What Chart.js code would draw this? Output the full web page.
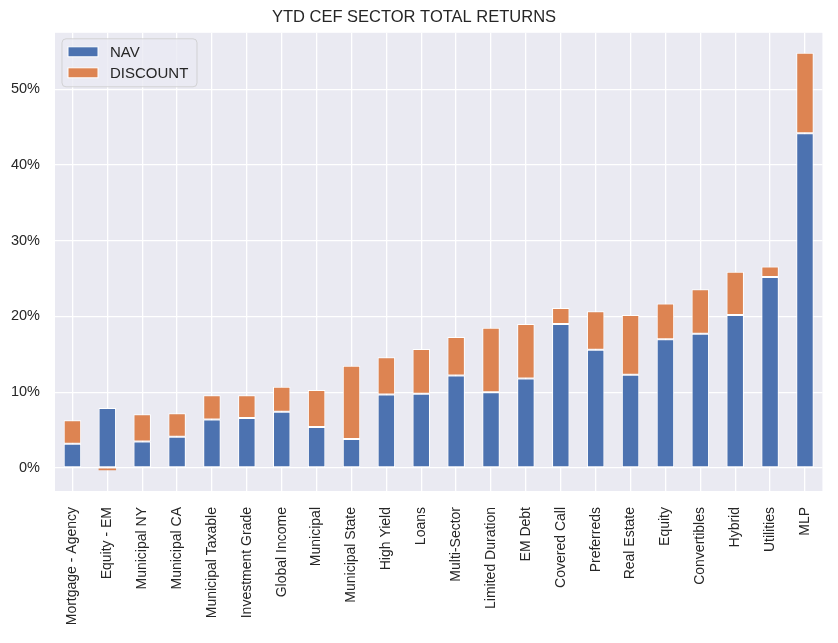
<!DOCTYPE html>
<html>
<head>
<meta charset="utf-8">
<script src="https://cdn.jsdelivr.net/npm/chart.js@4"></script>
<style>
  html, body { margin: 0; padding: 0; background: #ffffff; }
  #wrap { width: 838px; height: 643px; position: relative; }
</style>
</head>
<body>
<div id="wrap"><canvas id="chart"></canvas></div>
<script>
// ===== Data =====

const sectors = [
    'Mortgage - Agency', 'Equity - EM', 'Municipal NY', 'Municipal CA', 'Municipal Taxable',
    'Investment Grade', 'Global Income', 'Municipal', 'Municipal State', 'High Yield',
    'Loans', 'Multi-Sector', 'Limited Duration', 'EM Debt', 'Covered Call',
    'Preferreds', 'Real Estate', 'Equity', 'Convertibles', 'Hybrid', 'Utilities', 'MLP'
];
const navReturns = [3.2, 7.9, 3.5, 4.1, 6.4, 6.6, 7.4, 5.4, 3.8, 9.7, 9.8, 12.2, 10.0, 11.8, 19.0, 15.6, 12.3, 17.0, 17.7, 20.2, 25.2, 44.2];
const discountReturns = [3.1, -0.3, 3.6, 3.1, 3.2, 3.0, 3.3, 4.9, 9.7, 4.9, 5.9, 5.1, 8.5, 7.2, 2.1, 5.1, 7.9, 4.7, 5.9, 5.7, 1.4, 10.6];
const yTicks = [0, 10, 20, 30, 40, 50];

const textColor = '#262626';
const fontFamily = '"Liberation Sans", Arial, sans-serif';

// ===== Plugins =====

const plotBackground = {
    id: 'plotBackground',
    beforeDraw: (chart) => {
        const {ctx, chartArea} = chart;
        ctx.save();
        ctx.fillStyle = '#ffffff';
        ctx.fillRect(0, 0, chart.width, chart.height);
        ctx.fillStyle = '#EAEAF2';
        ctx.fillRect(chartArea.left, chartArea.top, chartArea.right - chartArea.left, chartArea.bottom - chartArea.top);
        ctx.restore();
    }
};

// legend drawn inside the plot, top left, like matplotlib's
const insideLegend = {
    id: 'insideLegend',
    afterDatasetsDraw: (chart) => {
        const {ctx, chartArea} = chart;
        const x0 = chartArea.left + 7;
        const y0 = chartArea.top + 6;
        const w = 135, h = 48;
        ctx.save();
        ctx.beginPath();
        ctx.roundRect(x0, y0, w, h, 4);
        ctx.fillStyle = 'rgba(234,234,242,0.8)';
        ctx.fill();
        ctx.strokeStyle = 'rgba(204,204,204,0.8)';
        ctx.lineWidth = 1;
        ctx.stroke();
        ctx.font = '15px ' + fontFamily;
        ctx.textBaseline = 'middle';
        chart.data.datasets.forEach((ds, i) => {
            const cy = y0 + 13 + i * 21;
            ctx.fillStyle = ds.backgroundColor;
            ctx.fillRect(x0 + 6, cy - 5, 30, 10);
            ctx.strokeStyle = '#ffffff';
            ctx.strokeRect(x0 + 6, cy - 5, 30, 10);
            ctx.fillStyle = textColor;
            ctx.fillText(ds.label, x0 + 48, cy + 1);
        });
        ctx.restore();
    }
};

// thin white edge, dropped on tiny segments so they stay visible
const edgeWidth = (c) => Math.abs(c.raw) < 1 ? 0 : 1;

// ===== Config =====

const data = {
    labels: sectors,
    datasets: [{
        label: 'NAV',
        data: navReturns,
        backgroundColor: '#4C72B0',
        borderColor: '#ffffff',
        borderWidth: edgeWidth,
        borderSkipped: false
    }, {
        label: 'DISCOUNT',
        data: discountReturns,
        backgroundColor: '#DD8452',
        borderColor: '#ffffff',
        borderWidth: edgeWidth,
        borderSkipped: false
    }]
};

const options = {
    responsive: true,
    maintainAspectRatio: false,
    animation: false,
    layout: { padding: { left: 0, right: 10, top: 0, bottom: 0 } },
    datasets: { bar: { barPercentage: 0.5, categoryPercentage: 1.0 } },
    plugins: {
        legend: { display: false },
        tooltip: { enabled: false },
        title: {
            display: true,
            text: 'YTD CEF SECTOR TOTAL RETURNS',
            color: textColor,
            font: { family: fontFamily, size: 16.5, weight: 'normal', lineHeight: 1.2 },
            padding: { top: 8, bottom: 5 }
        }
    },
    scales: {
        x: {
            stacked: true,
            offset: true,
            grid: { color: '#ffffff', lineWidth: 1.3, offset: false, drawTicks: false },
            border: { display: false },
            ticks: {
                autoSkip: false,
                minRotation: 90,
                maxRotation: 90,
                padding: 16,
                color: textColor,
                font: { family: fontFamily, size: 14 }
            },
            afterFit: (scale) => { scale.height = 152; }
        },
        y: {
            stacked: true,
            min: -3.05,
            max: 57.45,
            grid: { color: '#ffffff', lineWidth: 1.3, drawTicks: false },
            border: { display: false },
            ticks: {
                includeBounds: false,
                padding: 15,
                color: textColor,
                font: { family: fontFamily, size: 14.5 },
                callback: (v) => v + '%'
            },
            afterBuildTicks: (scale) => { scale.ticks = yTicks.map(v => ({ value: v })); },
            afterFit: (scale) => { scale.width = 55; }
        }
    }
};

const config = {
    type: 'bar',
    data: data,
    options: options,
    plugins: [plotBackground, insideLegend]
};

// ===== Chart =====

const sectorChart = new Chart(document.querySelector('#chart'), config);
</script>
</body>
</html>
